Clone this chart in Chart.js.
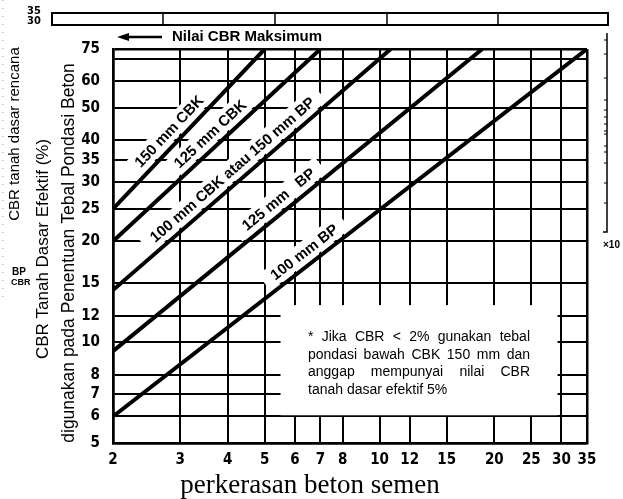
<!DOCTYPE html>
<html>
<head>
<meta charset="utf-8">
<script src="https://cdn.jsdelivr.net/npm/chart.js@4/dist/chart.umd.min.js"></script>
<style>
  html, body { margin: 0; padding: 0; background: #fff; }
  canvas { display: block; }
</style>
</head>
<body>
<canvas id="c" width="623" height="499"></canvas>
<script>
// Tick values and labels on the two logarithmic axes
const xTicks = [2, 3, 4, 5, 6, 7, 8, 10, 12, 15, 20, 25, 30, 35];
const xTickLabels = ['2', '3', '4', '5', '6', '7', '8', '10', '12', '15', '20', '25', '30', '35'];
const yTicks = [5, 6, 7, 8, 10, 12, 15, 20, 25, 30, 35, 40, 50, 60, 70, 75];
const yTickLabels = ['5', '6', '7', '8', '10', '12', '15', '20', '25', '30', '35', '40', '50', '60', '', '75'];

// Sub-base thickness lines: value at the left edge (x = 2) and the x where each reaches CBR 75
const seriesNames = ['150 mm CBK', '125 mm CBK', '100 mm CBK atau 150 mm BP', '125 mm   BP', '100 mm BP'];
const startX = [2, 2, 2, 2, 2];
const startCBR = [25, 20, 14.3, 9.4, 6];
const endX = [5, 7, 10.7, 18.6, 35];
const endCBR = [75, 75, 75, 75, 75];

const noteLines = [
  '* Jika CBR < 2% gunakan tebal',
  'pondasi bawah CBK 150 mm dan',
  'anggap mempunyai nilai CBR',
  'tanah dasar efektif 5%'
];

// label placement along each line (fraction of its length) and offset from the line
const labelStyle = [
  { t: 0.43, off: 12 },
  { t: 0.51, off: 12 },
  { t: 0.46, off: 12 },
  { t: 0.47, off: 12 },
  { t: 0.42, off: 12 }
];

const datasets = seriesNames.map((name, i) => ({
  label: name,
  data: [{ x: startX[i], y: startCBR[i] }, { x: endX[i], y: endCBR[i] }],
  showLine: true,
  borderColor: '#000',
  borderWidth: 4,
  borderCapStyle: 'butt',
  pointRadius: 0,
  fill: false
}));

const SANS = '"Liberation Sans", Arial, sans-serif';
const TICKFONT = '"DejaVu Sans Condensed", "DejaVu Sans", sans-serif';

function lineGeom(chart, i) {
  const xs = chart.scales.x, ys = chart.scales.y;
  const x0 = xs.getPixelForValue(startX[i]), y0 = ys.getPixelForValue(startCBR[i]);
  const x1 = xs.getPixelForValue(endX[i]), y1 = ys.getPixelForValue(endCBR[i]);
  const ang = Math.atan2(y1 - y0, x1 - x0);
  const s = labelStyle[i];
  const px = x0 + s.t * (x1 - x0), py = y0 + s.t * (y1 - y0);
  const nx = Math.sin(ang), ny = -Math.cos(ang);
  return { cx: px + nx * s.off, cy: py + ny * s.off, ang };
}

function drawJustified(ctx, text, x, y, width) {
  const words = text.split(/\s+/);
  const total = words.reduce((a, w) => a + ctx.measureText(w).width, 0);
  const gap = (width - total) / (words.length - 1);
  let cx = x;
  words.forEach(w => { ctx.fillText(w, cx, y); cx += ctx.measureText(w).width + gap; });
}

const decor = {
  id: 'decor',
  beforeDraw(chart) {
    const ctx = chart.ctx;
    ctx.save();
    ctx.fillStyle = '#fff';
    ctx.fillRect(0, 0, chart.width, chart.height);
    ctx.restore();
  },
  beforeDatasetsDraw(chart) {
    const ctx = chart.ctx, a = chart.chartArea;
    ctx.save();
    ctx.beginPath();
    ctx.rect(a.left + 2, a.top + 2, a.right - a.left - 4, a.bottom - a.top - 4);
    ctx.clip();
    ctx.fillStyle = '#fff';
    // blank panel holding the note
    const xs = chart.scales.x, ys = chart.scales.y;
    const nx0 = xs.getPixelForValue(5.5), nx1 = xs.getPixelForValue(29.3);
    const ny0 = ys.getPixelForValue(12.9), ny1 = ys.getPixelForValue(6.05);
    ctx.fillRect(nx0, ny0, nx1 - nx0, ny1 - ny0);
    // white bands behind the line labels
    ctx.font = 'bold 15px ' + SANS;
    seriesNames.forEach((name, i) => {
      const g = lineGeom(chart, i);
      const w = ctx.measureText(name).width;
      ctx.save();
      ctx.translate(g.cx, g.cy);
      ctx.rotate(g.ang);
      ctx.fillRect(-w / 2 - 10, -11, w + 20, 20);
      ctx.restore();
    });
    ctx.restore();
  },
  afterDatasetsDraw(chart) {
    const ctx = chart.ctx;
    ctx.save();
    ctx.fillStyle = '#000';
    ctx.font = 'bold 15px ' + SANS;
    ctx.textAlign = 'center';
    ctx.textBaseline = 'middle';
    seriesNames.forEach((name, i) => {
      const g = lineGeom(chart, i);
      ctx.save();
      ctx.translate(g.cx, g.cy);
      ctx.rotate(g.ang);
      ctx.fillText(name, 0, 0);
      ctx.restore();
    });
    // note
    ctx.font = '14px ' + SANS;
    ctx.textAlign = 'left';
    const nx = 308, nw = 222;
    noteLines.forEach((ln, k) => {
      const y = 337 + k * 17.7;
      if (k < noteLines.length - 1) drawJustified(ctx, ln, nx, y, nw);
      else ctx.fillText(ln, nx, y);
    });
    ctx.restore();
  },
  afterDraw(chart) {
    const ctx = chart.ctx;
    ctx.save();
    ctx.fillStyle = '#000';
    ctx.strokeStyle = '#000';

    // left titles
    const vtext = (txt, x, y, font) => {
      ctx.save();
      ctx.translate(x, y);
      ctx.rotate(-Math.PI / 2);
      ctx.font = font;
      ctx.textAlign = 'center';
      ctx.textBaseline = 'middle';
      ctx.fillText(txt, 0, 0);
      ctx.restore();
    };
    vtext('CBR tanah dasar rencana', 15, 134, '15px ' + SANS);
    vtext('CBR Tanah Dasar Efektif (%)', 43, 249, '17px ' + SANS);
    vtext('digunakan pada Penentuan Tebal Pondasi Beton', 69, 253, '17.5px ' + SANS);

    ctx.font = 'bold 10px ' + SANS;
    ctx.textAlign = 'left';
    ctx.textBaseline = 'middle';
    ctx.fillText('BP', 12, 272);
    ctx.font = 'bold 9px ' + SANS;
    ctx.fillText('CBR', 11, 283);

    // upper strip
    ctx.lineWidth = 2;
    ctx.strokeRect(52, 13, 556, 12);
    ctx.lineWidth = 1.5;
    [163, 275, 387, 498].forEach(x => {
      ctx.beginPath(); ctx.moveTo(x, 13); ctx.lineTo(x, 25); ctx.stroke();
    });
    ctx.font = 'bold 11px ' + TICKFONT;
    ctx.fillText('35', 27, 11);
    ctx.fillText('30', 27, 21);

    // faint dotted margin
    ctx.save();
    ctx.strokeStyle = '#999';
    ctx.lineWidth = 1;
    ctx.setLineDash([1, 7]);
    ctx.beginPath(); ctx.moveTo(3, 0); ctx.lineTo(3, 300); ctx.stroke();
    ctx.restore();

    // maximum CBR arrow
    ctx.lineWidth = 2.5;
    ctx.beginPath(); ctx.moveTo(126, 37); ctx.lineTo(162, 37); ctx.stroke();
    ctx.beginPath(); ctx.moveTo(117, 37); ctx.lineTo(129, 33); ctx.lineTo(129, 41); ctx.closePath(); ctx.fill();
    ctx.font = 'bold 15px ' + SANS;
    ctx.fillText('Nilai CBR Maksimum', 172, 37);

    // right edge scale
    ctx.lineWidth = 1.5;
    ctx.beginPath(); ctx.moveTo(607, 33); ctx.lineTo(607, 232); ctx.lineTo(603, 232); ctx.stroke();
    ctx.lineWidth = 1;
    [40, 54, 78, 100, 110, 117, 124, 131, 134, 146, 152, 163, 183, 203].forEach(y => {
      ctx.beginPath(); ctx.moveTo(604, y); ctx.lineTo(607, y); ctx.stroke();
    });
    ctx.font = 'bold 10px ' + SANS;
    ctx.fillText('×10', 603, 245);

    // bottom caption
    ctx.font = '27px "Liberation Serif", "Times New Roman", serif';
    ctx.textAlign = 'center';
    ctx.textBaseline = 'middle';
    ctx.fillText('perkerasan beton semen', 310, 486);
    ctx.restore();
  }
};

const edgeWidth = (ctx, last) => (ctx.index === 0 || ctx.index === last) ? 2.5 : 2;

new Chart(document.getElementById('c'), {
  type: 'scatter',
  data: { datasets },
  options: {
    responsive: false,
    devicePixelRatio: 1,
    animation: false,
    events: [],
    layout: { padding: { left: 13, right: 36, top: 49, bottom: 26 } },
    plugins: { legend: { display: false }, tooltip: { enabled: false } },
    scales: {
      x: {
        type: 'logarithmic',
        min: 2,
        max: 35,
        afterBuildTicks: s => { s.ticks = xTicks.map(v => ({ value: v })); },
        afterFit: s => { s.height = 30; },
        ticks: {
          autoSkip: false,
          maxRotation: 0,
          padding: 8,
          color: '#000',
          font: { family: TICKFONT, size: 15, weight: 'bold' },
          callback: (v, i) => xTickLabels[i]
        },
        grid: {
          color: '#000',
          drawTicks: false,
          lineWidth: c => edgeWidth(c, xTicks.length - 1)
        },
        border: { color: '#000', width: 2.5 }
      },
      y: {
        type: 'logarithmic',
        min: 5,
        max: 75,
        afterBuildTicks: s => { s.ticks = yTicks.map(v => ({ value: v })); },
        afterFit: s => { s.width = 100; },
        ticks: {
          autoSkip: false,
          padding: 13,
          color: '#000',
          font: { family: TICKFONT, size: 15, weight: 'bold' },
          callback: (v, i) => yTickLabels[i]
        },
        grid: {
          color: '#000',
          drawTicks: false,
          lineWidth: c => edgeWidth(c, yTicks.length - 1)
        },
        border: { color: '#000', width: 2.5 }
      }
    }
  },
  plugins: [decor]
});
</script>
</body>
</html>
